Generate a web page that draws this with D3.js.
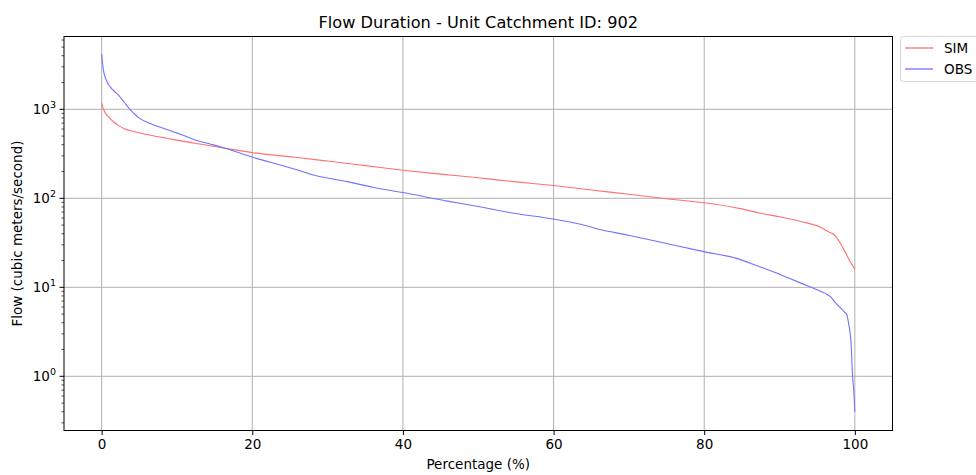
<!DOCTYPE html>
<html><head><meta charset="utf-8">
<script src="https://cdn.jsdelivr.net/npm/d3@7"></script>
<style>
body{margin:0;background:#fff;}
text{font-family:"DejaVu Sans",sans-serif;fill:#000;}
</style></head>
<body><svg id="c" width="976" height="475"></svg>
<script>
const title = "Flow Duration - Unit Catchment ID: 902";
const xLabel = "Percentage (%)";
const yLabel = "Flow (cubic meters/second)";
const xTicks = [0, 20, 40, 60, 80, 100];
const yTickExps = [0, 1, 2, 3];
const seriesNames = ["SIM", "OBS"];

const simPct = [0,0.2,0.44,0.8,1.1,1.6,2.2,3,4.4,6,8,10,12.4,16.4,20.1,25.7,30,35,40,45,50,55,60,65,70,75,80,85,87.5,90,92.8,95.5,96.5,97.3,98.1,98.6,99.3,100];
const simVal = [1170,1030,920,840,790,720,660,605,560,520,484,450,415,365,325,289,262,233,207,187,170,153,139,124,111,99,89,76,68,62,55,47,42,38.7,31,26,20,16];

const obsPct = [0,0.1,0.25,0.6,1.0,1.5,2.2,3,3.76,4.4,5.1,6.6,8,9.5,11,12.4,14.5,16.4,20.1,23.7,25.7,28.1,32.6,36,40,45.9,50,54.7,60,63.6,66,69.8,75,80.1,84.4,87,89.7,91.3,93,94.6,96,96.8,97.3,98,98.6,98.9,99.2,99.5,99.7,99.85,100];
const obsVal = [4200,3400,2700,2150,1850,1650,1450,1200,1000,880,785,684,620,560,505,452,405,365,289,237,212,183,154,133,116,93,81,68,58.5,51,45,38.7,31,25,21,17.5,14.4,12.6,11,9.7,8.6,7.8,6.9,6,5.3,5.0,3.8,2.36,1.0,0.7,0.4];

const colors = ["#ff7070", "#7272ff"];

const svg = d3.select("#c");
const L = 64, R = 892.5, T = 36.5, B = 430.5;
const x = d3.scaleLinear().domain([-5, 105]).range([L, R]);
const y = d3.scaleLog().domain([Math.pow(10,-0.609), Math.pow(10,3.818)]).range([B, T]);

// grid
const g = svg.append("g");
xTicks.forEach(t => g.append("line").attr("x1", x(t)).attr("x2", x(t)).attr("y1", T).attr("y2", B)
  .attr("stroke", "#b0b0b0").attr("stroke-width", 1));
yTickExps.forEach(e => g.append("line").attr("x1", L).attr("x2", R).attr("y1", y(Math.pow(10,e))).attr("y2", y(Math.pow(10,e)))
  .attr("stroke", "#b0b0b0").attr("stroke-width", 1));

// lines
const line = d3.line().x(d => x(d[0])).y(d => y(d[1])).curve(d3.curveMonotoneX);
const simData = simPct.map((p,i) => [p, simVal[i]]);
const obsData = obsPct.map((p,i) => [p, obsVal[i]]);
svg.append("path").datum(simData).attr("d", line).attr("fill","none").attr("stroke",colors[0]).attr("stroke-width",1.1);
svg.append("path").datum(obsData).attr("d", line).attr("fill","none").attr("stroke",colors[1]).attr("stroke-width",1.1);

// frame
svg.append("rect").attr("x", L).attr("y", T).attr("width", R-L).attr("height", B-T)
  .attr("fill","none").attr("stroke","#000").attr("stroke-width",1);

// x axis
const xa = svg.append("g").attr("transform", `translate(0,${B})`)
  .call(d3.axisBottom(x).tickValues(xTicks).tickSize(4.5).tickPadding(4).tickFormat(d3.format("d")));
xa.select(".domain").remove();
xa.selectAll("text").attr("font-size", 13.5).attr("font-family", "DejaVu Sans");
xa.selectAll("line").attr("stroke", "#000");

// y axis major & minor
const ya = svg.append("g");
for (let e = -1; e <= 3; e++) {
  for (let m = 1; m <= 9; m++) {
    const v = m * Math.pow(10, e);
    const [lo, hi] = y.domain();
    if (v < lo || v > hi) continue;
    const yy = y(v);
    ya.append("line").attr("x1", L).attr("x2", L - (m === 1 ? 4.5 : 2.5)).attr("y1", yy).attr("y2", yy)
      .attr("stroke", "#000").attr("stroke-width", m === 1 ? 1 : 0.7);
  }
}
yTickExps.forEach(e => {
  const t = ya.append("text").attr("x", L - 8).attr("y", y(Math.pow(10,e)) + 5)
    .attr("text-anchor", "end").attr("font-size", 13.5);
  t.append("tspan").text("10");
  t.append("tspan").attr("dy", -6).attr("font-size", 9.5).text(String(e));
});

// labels
svg.append("text").attr("x", (L+R)/2).attr("y", 28).attr("text-anchor","middle").attr("font-size", 16.2).text(title);
svg.append("text").attr("x", (L+R)/2).attr("y", 469).attr("text-anchor","middle").attr("font-size", 13.5).text(xLabel);
svg.append("text").attr("transform", `translate(22,${(T+B)/2}) rotate(-90)`).attr("text-anchor","middle").attr("font-size", 13.5).text(yLabel);

// legend
const lg = svg.append("g");
lg.append("rect").attr("x", 900.5).attr("y", 36.5).attr("width", 100).attr("height", 45).attr("rx", 3)
  .attr("fill", "#fff").attr("stroke", "#d6d6d6").attr("stroke-width", 1);
seriesNames.forEach((n, i) => {
  const yy = 48 + i * 21;
  lg.append("line").attr("x1", 905).attr("x2", 933).attr("y1", yy).attr("y2", yy)
    .attr("stroke", colors[i]).attr("stroke-width", 1.3);
  lg.append("text").attr("x", 944).attr("y", yy + 5).attr("font-size", 13.5).text(n);
});
</script></body></html>
